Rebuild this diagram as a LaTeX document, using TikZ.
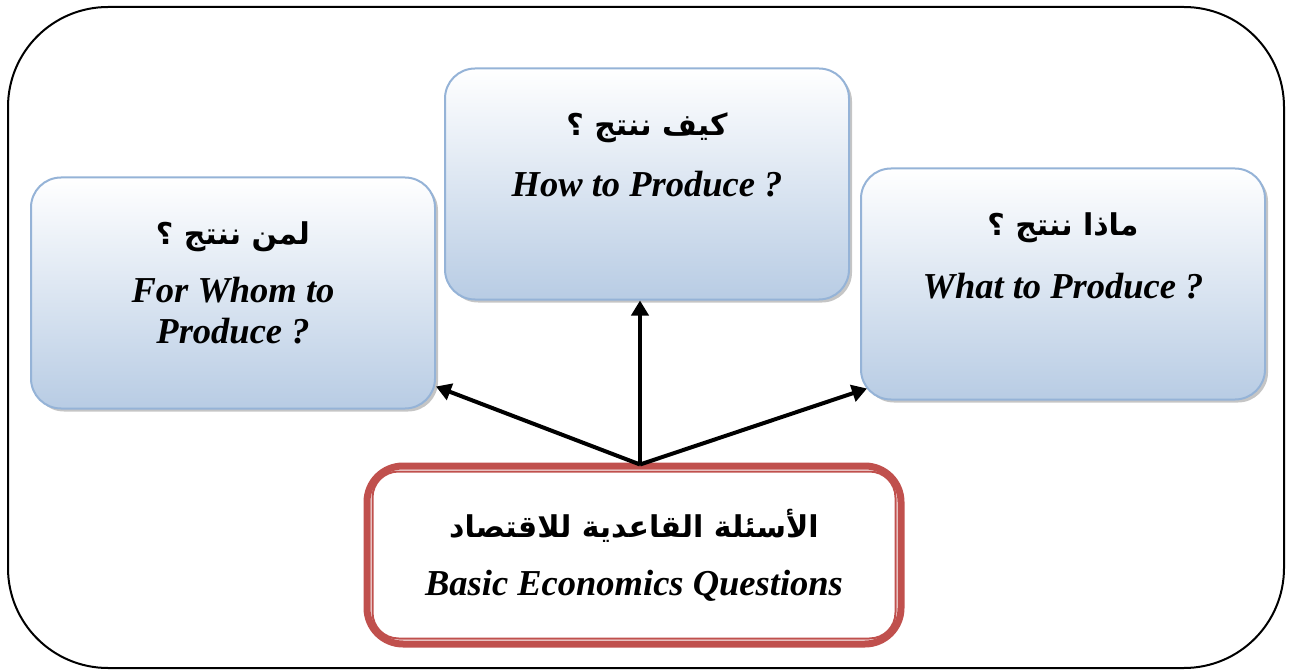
\documentclass[tikz,border=0pt]{standalone}
\usepackage{fontspec}
\setmainfont{Liberation Serif}
\newfontfamily\arabicfont[Script=Arabic]{DejaVu Sans}
\TeXXeTstate=1
\usetikzlibrary{shadows,arrows.meta}

\definecolor{qedge}{RGB}{149,179,215}
\definecolor{qfill}{RGB}{184,204,228}
\definecolor{qred}{RGB}{192,80,77}

\begin{document}
\begin{tikzpicture}[x=1pt, y=-1pt,
    qbox/.style={draw=qedge, line width=2pt, rounded corners=30pt,
      minimum width=404pt, minimum height=231pt,
      top color=white, bottom color=qfill,
      drop shadow={shadow xshift=3pt, shadow yshift=-3pt, fill=black!45}},
    basebox/.style={draw=qred, line width=7pt, rounded corners=36pt, fill=white,
      minimum width=534pt, minimum height=178pt},
    artext/.style={font=\arabicfont\bfseries\fontsize{30}{36}\selectfont},
    entext/.style={font=\bfseries\itshape\fontsize{36.5}{41}\selectfont, align=center},
    link/.style={line width=4pt, -{Triangle[length=15pt,width=17pt]}}]
    \useasboundingbox (0,0) rectangle (1291,671);

    \draw[line width=2pt, rounded corners=100pt] (8,7) rectangle (1284,668);

    \node[qbox] (whom) at (233,293) {};
    \node[qbox] (how) at (647,184) {};
    \node[qbox] (what) at (1063,284) {};
    \node[basebox] (basic) at (634,555) {};
    \draw[qred, line width=2pt, rounded corners=26pt]
        ([shift={(9pt,-9pt)}]basic.north west) rectangle ([shift={(-9pt,9pt)}]basic.south east);

    \node[artext] (whomar) at ([yshift=-60pt]whom.north) {\beginR لمن ننتج ؟\endR};
    \node[entext] (whomen) at ([yshift=-134pt]whom.north) {For Whom to\\Produce ?};
    \node[artext] (howar) at ([yshift=-60pt]how.north) {\beginR كيف ننتج ؟\endR};
    \node[entext] (howen) at ([yshift=-117pt]how.north) {How to Produce ?};
    \node[artext] (whatar) at ([yshift=-60pt]what.north) {\beginR ماذا ننتج ؟\endR};
    \node[entext] (whaten) at ([yshift=-119pt]what.north) {What to Produce ?};
    \node[artext] (basicar) at ([yshift=-63pt]basic.north) {\beginR الأسئلة القاعدية للاقتصاد\endR};
    \node[entext] (basicen) at ([yshift=-123pt]basic.north) {Basic Economics Questions};

    \coordinate (hub) at ([xshift=6pt, yshift=-2pt]basic.north);
    \draw[link] (hub) -- ([yshift=23pt]whom.south east);
    \draw[link] (hub) -- (hub |- how.south);
    \draw[link] (hub) -- ([shift={(7pt,12pt)}]what.south west);
\end{tikzpicture}
\end{document}
